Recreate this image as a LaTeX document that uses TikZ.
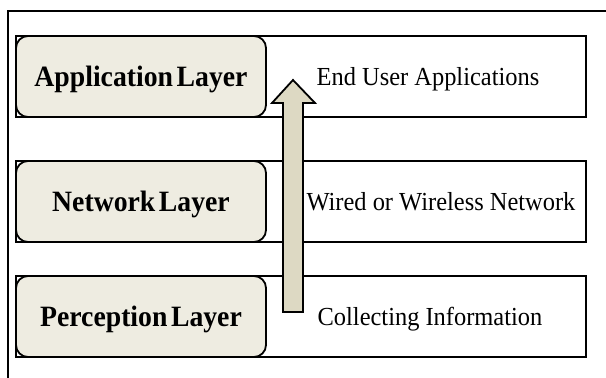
\documentclass[tikz,border=0pt]{standalone}
\usepackage{fontspec}
\setmainfont{Liberation Serif}[FakeStretch=0.94]
\usepackage{tikz}
\usetikzlibrary{calc}
\definecolor{layerfill}{HTML}{EEECE1}
\definecolor{arrowfill}{HTML}{DDD9C3}
\newcommand{\layerfont}{\fontsize{29.5}{31}\selectfont\bfseries\spaceskip=0.12em plus 0pt minus 0pt\relax}
\tikzset{
  rowbox/.style={draw, fill=white, line width=1.8pt, minimum width=570pt,
    minimum height=81pt, inner sep=0pt},
  layerbox/.style={draw, fill=layerfill, line width=1.8pt, rounded corners=12pt,
    minimum width=250pt, minimum height=81pt, inner sep=0pt},
  layertext/.style={inner sep=0pt, anchor=base, font=\layerfont},
  desctext/.style={inner sep=0pt, anchor=base, font=\fontsize{26}{28}\selectfont},
  blockarrow/.style={draw, fill=arrowfill, line width=1.8pt, line join=miter},
}
\begin{document}
\begin{tikzpicture}[x=1pt, y=-1pt]
  \useasboundingbox (0,0) rectangle (606,378);
  % outer frame, cut off at right and bottom
  \draw[line width=1.8pt] (8,378) -- (8,11) -- (606,11);

  % the three rows
  \node[rowbox] (approw) at (301,76.5) {};
  \node[rowbox] (netrow) at (301,201.5) {};
  \node[rowbox] (perrow) at (301,316.5) {};

  \node[layerbox] (app) at (141,76.5) {};
  \node[layerbox] (net) at (141,201.5) {};
  \node[layerbox] (per) at (141,316.5) {};

  \node[layertext] (applabel) at ($(app.center)+(0,10)$) {Application Layer};
  \node[layertext] (netlabel) at ($(net.center)+(0,10)$) {Network Layer};
  \node[layertext] (perlabel) at ($(per.center)+(0,10)$) {Perception Layer};

  \node[desctext] (appdesc) at (428,85.7) {End User Applications};
  \node[desctext] (netdesc) at (441,210.7) {Wired or Wireless Network};
  \node[desctext] (perdesc) at (430,325.7) {Collecting Information};

  % upward block arrow
  \coordinate (foot) at (293,312);
  \coordinate (tip) at (293,80);
  \draw[blockarrow]
    ($(foot)+(-10,0)$) -- ($(foot)+(10,0)$) -- ($(tip)+(10,23)$)
    -- ($(tip)+(22,23)$) -- (tip) -- ($(tip)+(-21,23)$)
    -- ($(tip)+(-10,23)$) -- cycle;
\end{tikzpicture}
\end{document}
